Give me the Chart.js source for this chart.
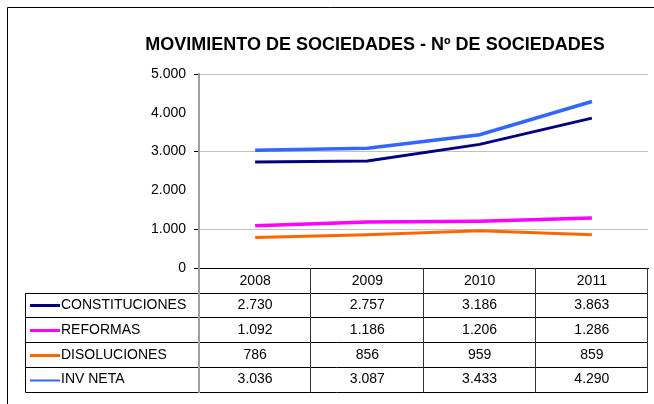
<!DOCTYPE html>
<html>
<head>
<meta charset="utf-8">
<script src="https://cdn.jsdelivr.net/npm/chart.js@4.4.1/dist/chart.umd.min.js"></script>
<style>
  html, body { margin: 0; padding: 0; background: #ffffff; }
  #wrap { width: 654px; height: 404px; position: relative; }
</style>
</head>
<body>
<div id="wrap"><canvas id="c" width="654" height="404"></canvas></div>
<script>
const chartTitle = 'MOVIMIENTO DE SOCIEDADES - Nº DE SOCIEDADES';
const years = ['2008', '2009', '2010', '2011'];
const seriesNames = ['CONSTITUCIONES', 'REFORMAS', 'DISOLUCIONES', 'INV NETA'];
const constituciones = [2730, 2757, 3186, 3863];
const reformas = [1092, 1186, 1206, 1286];
const disoluciones = [786, 856, 959, 859];
const invNeta = [3036, 3087, 3433, 4290];
const yTicks = [0, 1000, 2000, 3000, 4000, 5000];

const colors = ['#000080', '#FF00FF', '#FF6600', '#3366FF'];
const widths = [3, 3.5, 3, 3.5];
const legendWidths = [3, 3, 3, 2];
const seriesValues = [constituciones, reformas, disoluciones, invNeta];

const FONT = '"Liberation Sans", Arial, sans-serif';
function fmt(n) { return String(n).replace(/\B(?=(\d{3})+(?!\d))/g, '.'); }

const decorPlugin = {
  id: 'decor',
  beforeDraw(chart) {
    const ctx = chart.ctx;
    ctx.save();
    ctx.fillStyle = '#ffffff';
    ctx.fillRect(0, 0, chart.width, chart.height);
    ctx.restore();
  },
  afterDraw(chart) {
    const ctx = chart.ctx;
    const xs = chart.scales.x;
    const area = chart.chartArea;
    ctx.save();
    // outer frame
    ctx.strokeStyle = '#000000';
    ctx.lineWidth = 1;
    ctx.beginPath();
    ctx.moveTo(7.5, 404);
    ctx.lineTo(7.5, 7.5);
    ctx.lineTo(654, 7.5);
    ctx.stroke();

    // title
    ctx.fillStyle = '#000000';
    ctx.font = 'bold 18px ' + FONT;
    ctx.textAlign = 'center';
    ctx.textBaseline = 'middle';
    ctx.fillText(chartTitle, 375, 45);

    // table geometry
    const top = area.bottom;
    const headerBottom = top + 24.5;
    const rowH = 24.75;
    const nRows = seriesNames.length;
    const bottom = headerBottom + rowH * nRows;
    const legLeft = 25.5;
    const centers = years.map((_, i) => xs.getPixelForValue(i));
    const half = (centers[1] - centers[0]) / 2;
    const bounds = [area.left];
    for (let i = 0; i < centers.length - 1; i++) bounds.push((centers[i] + centers[i + 1]) / 2);
    bounds.push(area.right);

    // horizontal lines
    ctx.strokeStyle = '#000000';
    ctx.lineWidth = 1;
    for (let r = 0; r <= nRows; r++) {
      const y = Math.round(headerBottom + rowH * r) + 0.5;
      ctx.beginPath();
      ctx.moveTo(legLeft, y);
      ctx.lineTo(area.right, y);
      ctx.stroke();
    }
    // vertical lines
    ctx.beginPath();
    ctx.moveTo(legLeft, Math.round(headerBottom) + 0.5);
    ctx.lineTo(legLeft, Math.round(bottom) + 0.5);
    ctx.stroke();
    for (let i = 1; i < bounds.length; i++) {
      const x = Math.round(bounds[i]) - 0.5;
      ctx.strokeStyle = '#333333';
      ctx.beginPath();
      ctx.moveTo(x, top);
      ctx.lineTo(x, Math.round(bottom) + 0.5);
      ctx.stroke();
    }
    // y-axis continuation (gray)
    ctx.strokeStyle = '#a0a0a0';
    ctx.lineWidth = 2;
    ctx.beginPath();
    ctx.moveTo(area.left, top);
    ctx.lineTo(area.left, Math.round(bottom) + 1);
    ctx.stroke();

    // rows
    ctx.font = '14px ' + FONT;
    ctx.textBaseline = 'middle';
    for (let r = 0; r < nRows; r++) {
      const cy = headerBottom + rowH * r + rowH / 2 + 0.5;
      ctx.strokeStyle = colors[r];
      ctx.lineWidth = legendWidths[r];
      ctx.beginPath();
      ctx.moveTo(30, Math.round(cy) + 0.5);
      ctx.lineTo(60, Math.round(cy) + 0.5);
      ctx.stroke();
      ctx.fillStyle = '#000000';
      ctx.textAlign = 'left';
      ctx.fillText(seriesNames[r], 61, cy);
      ctx.textAlign = 'center';
      seriesValues[r].forEach((v, i) => ctx.fillText(fmt(v), centers[i], cy));
    }
    ctx.restore();
  }
};

const datasets = seriesNames.map((name, i) => ({
  label: name,
  data: seriesValues[i],
  borderColor: colors[i],
  backgroundColor: colors[i],
  borderWidth: widths[i],
  pointRadius: 0,
  pointHoverRadius: 0,
  tension: 0,
  fill: false
}));

new Chart(document.getElementById('c'), {
  type: 'line',
  data: { labels: years, datasets },
  options: {
    responsive: false,
    animation: false,
    devicePixelRatio: 1,
    layout: { padding: { top: 74, left: 7, right: 6, bottom: 112 } },
    plugins: {
      legend: { display: false },
      title: { display: false },
      tooltip: { enabled: false }
    },
    scales: {
      x: {
        offset: true,
        grid: { display: false, drawTicks: false },
        border: { display: true, color: '#000000', width: 1 },
        ticks: { color: '#000000', font: { family: FONT, size: 14 }, padding: 5, maxRotation: 0 },
        afterFit(s) { s.height = 24; }
      },
      y: {
        min: 0,
        max: 5000,
        afterBuildTicks(s) { s.ticks = yTicks.map(v => ({ value: v })); },
        grid: {
          color: c => (c.tick && c.tick.value % 2000 === 1000) ? '#c0c0c0' : 'rgba(0,0,0,0)',
          tickColor: c => (c.tick && (c.tick.value % 2000 === 1000 || c.tick.value === 0)) ? '#000000' : 'rgba(0,0,0,0)',
          tickLength: 5,
          lineWidth: 1
        },
        border: { display: true, color: '#a0a0a0', width: 2 },
        ticks: {
          color: '#000000',
          font: { family: FONT, size: 14 },
          padding: 8,
          callback: v => fmt(v)
        },
        afterFit(s) { s.width = 192; }
      }
    }
  },
  plugins: [decorPlugin]
});
</script>
</body>
</html>
